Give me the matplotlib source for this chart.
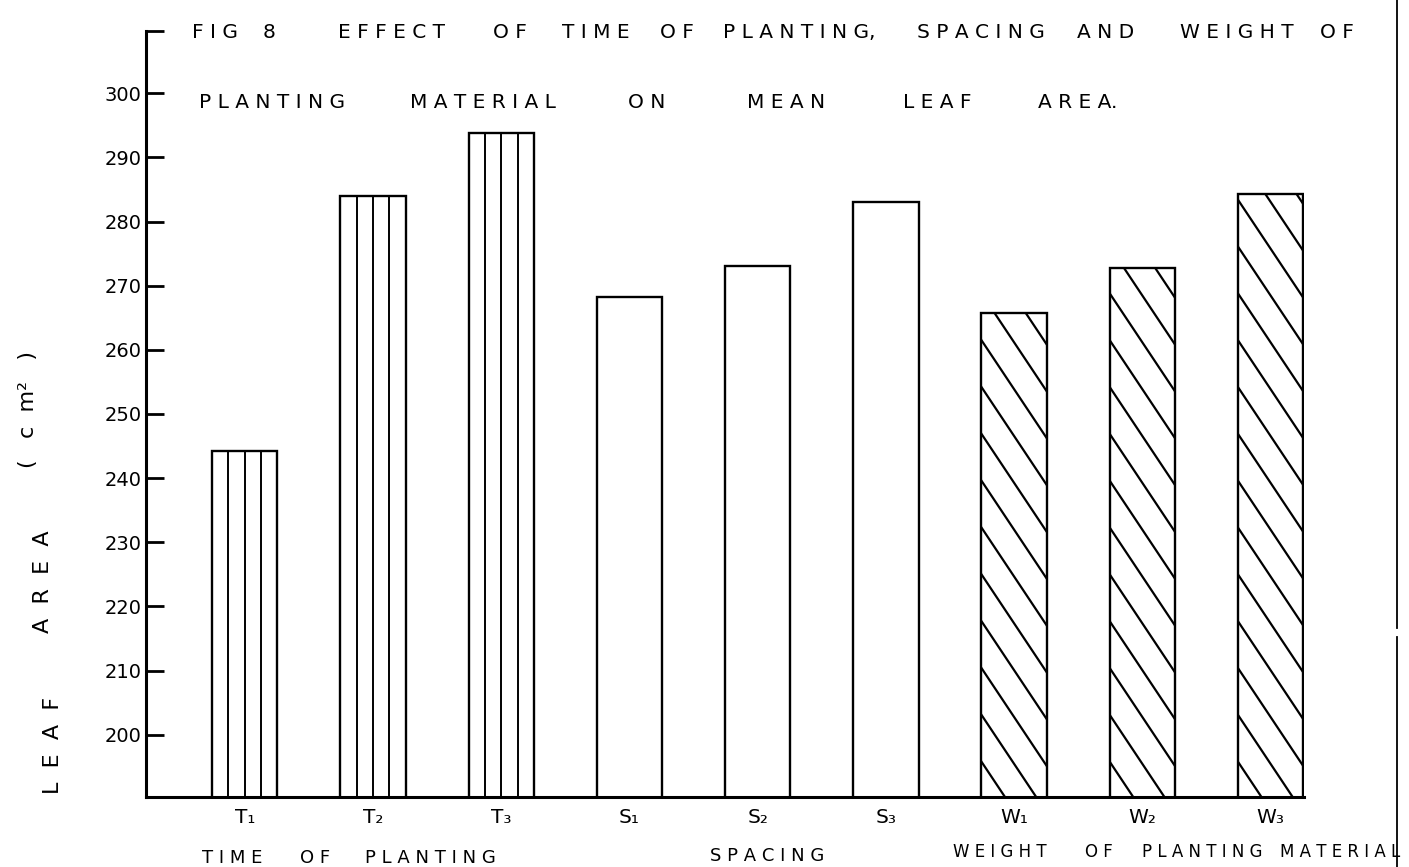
import numpy as np
import matplotlib
matplotlib.use("Agg")
import matplotlib.pyplot as plt
from matplotlib.lines import Line2D
from matplotlib.patches import Rectangle

# Data ---------------------------------------------------------------------
categories = ["T₁", "T₂", "T₃", "S₁", "S₂", "S₃", "W₁", "W₂", "W₃"]
leaf_area = [244.2, 284.0, 293.8, 268.3, 273.1, 283.0, 265.7, 272.8, 284.3]
fill_style = ["vertical", "vertical", "vertical",
              "plain", "plain", "plain",
              "diagonal", "diagonal", "diagonal"]
y_ticks = [200, 210, 220, 230, 240, 250, 260, 270, 280, 290, 300]
group_names = ["TIME OF PLANTING", "SPACING", "WEIGHT OF PLANTING MATERIAL"]
title_lines = ["FIG 8 EFFECT OF TIME OF PLANTING, SPACING AND WEIGHT OF",
               "PLANTING MATERIAL ON MEAN LEAF AREA."]
y_label_words = ["LEAF", "AREA", "(cm²)"]

# Layout (pixels of the 1409x867 page) --------------------------------------
W, H = 1409, 867
title_y = [33, 102]
title_x = [[192, 263, 338, 493, 562, 660, 723, 917, 1077, 1180, 1320],
           [199, 410, 628, 747, 903, 1038]]
group_x = [[202, 300, 365], [710], [953, 1085, 1142, 1280]]
group_y = [858, 856, 852]
group_size = [13, 13, 12]
ylabel_pos = [(53, 745), (43, 582), (28, 410)]


def fx(px):
    return px / W


def fy(py):
    return 1 - py / H


def spaced(word, gap=" "):
    out = ""
    for i, ch in enumerate(word):
        if i and ch not in ",.":
            out += gap
        out += ch
    return out


fig = plt.figure(figsize=(W / 100, H / 100), dpi=100)
fig.patch.set_facecolor("white")
ax = fig.add_axes([fx(146), fy(797), (1304 - 146) / W, (797 - 31) / H])

ymin, ymax = 190.3, 309.7
x = np.arange(len(categories))
bar_w = 0.51
bars = ax.bar(x, leaf_area, width=bar_w, color="white", edgecolor="black",
              linewidth=1.7, zorder=2)

# vertical strips for time of planting bars
for i, style in enumerate(fill_style):
    if style == "vertical":
        xs = x[i] + bar_w * (np.arange(1, 4) / 4 - 0.5)
        ax.vlines(xs, ymin, leaf_area[i], color="black", linewidth=1.4, zorder=3)

# steep diagonal hatching for weight bars
slope, step = 30.0, 7.3
for i, style in enumerate(fill_style):
    if style != "diagonal":
        continue
    left, right = x[i] - bar_w / 2, x[i] + bar_w / 2
    clip = Rectangle((left, ymin), bar_w, leaf_area[i] - ymin,
                     transform=ax.transData)
    drop = slope * bar_w
    for y0 in np.arange(ymin + 5.5, leaf_area[i] + drop, step):
        ln, = ax.plot([left, right], [y0, y0 - drop], color="black",
                      linewidth=1.6, zorder=3)
        ln.set_clip_path(clip)

ax.set_xlim(-0.77, 8.26)
ax.set_ylim(ymin, ymax)
ax.set_yticks(y_ticks + [ymax])
ax.set_yticklabels([str(t) for t in y_ticks] + [""])
ax.set_xticks(x)
ax.set_xticklabels(categories)
ax.tick_params(axis="y", direction="in", length=13, width=2, labelsize=14, pad=3)
ax.tick_params(axis="x", length=0, labelsize=14.5, pad=8)
for side in ("top", "right"):
    ax.spines[side].set_visible(False)
for side in ("left", "bottom"):
    ax.spines[side].set_linewidth(2.2)

# Title --------------------------------------------------------------------
for line, ypix, xs in zip(title_lines, title_y, title_x):
    for word, xpix in zip(line.split(), xs):
        fig.text(fx(xpix), fy(ypix), spaced(word), fontsize=14.5,
                 ha="left", va="center")

# Group captions -------------------------------------------------------------
for name, xs, ypix, size in zip(group_names, group_x, group_y, group_size):
    for word, xpix in zip(name.split(), xs):
        fig.text(fx(xpix), fy(ypix), spaced(word), fontsize=size,
                 ha="left", va="center")

# Y label ------------------------------------------------------------------
gaps = ["  ", "  ", " "]
for word, (xpix, ypix), gap in zip(y_label_words, ylabel_pos, gaps):
    txt = spaced(word, gap) if word[0] != "(" else "(   c  m²   )"
    fig.text(fx(xpix), fy(ypix), txt, fontsize=16, rotation=90,
             ha="center", va="center")

# page edge on the right (small break in the ruled line)
fig.add_artist(Line2D([fx(1397), fx(1397)], [fy(628), 1], color="black", linewidth=1.3))
fig.add_artist(Line2D([fx(1397), fx(1397)], [0, fy(637)], color="black", linewidth=1.3))

fig.savefig("out.png", dpi=100)
